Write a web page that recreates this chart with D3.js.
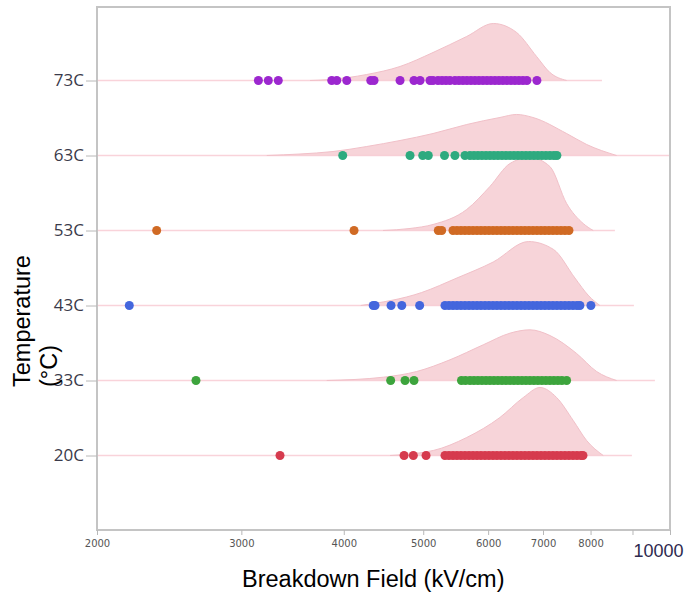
<!DOCTYPE html>
<html>
<head>
<meta charset="utf-8">
<script src="https://cdnjs.cloudflare.com/ajax/libs/d3/7.8.5/d3.min.js"></script>
<style>
  body { margin: 0; background: #fff; }
  svg { display: block; }
  .title { font-family: Arial, "Liberation Sans", sans-serif; font-size: 23.5px; fill: #000; }
</style>
</head>
<body>
<svg class="chart" width="686" height="593"></svg>
<script>
// temperature rows, bottom to top
var rows = ["20C", "33C", "43C", "53C", "63C", "73C"];

// breakdown field of each sample (kV/cm)
var field20 = [3344, 4738, 4863, 5040, 5315, 5375, 5436, 5497, 5559, 5622, 5686, 5750, 5815, 5880, 5947,
  6014, 6082, 6150, 6220, 6290, 6361, 6433, 6506, 6580, 6654, 6729, 6805, 6882, 6960, 7038, 7118, 7198,
  7279, 7362, 7445, 7529, 7614, 7700, 7787, 7831];
var field33 = [2641, 4563, 4751, 4872, 5567, 5630, 5702, 5766, 5831, 5897, 5964, 6031, 6099, 6168, 6238,
  6308, 6379, 6451, 6524, 6598, 6672, 6747, 6823, 6900, 6978, 7057, 7137, 7217, 7299, 7381, 7480];
var field43 = [2190, 4345, 4367, 4568, 4708, 4950, 5315, 5375, 5436, 5497, 5559, 5622, 5686, 5750, 5815,
  5880, 5947, 6014, 6082, 6150, 6220, 6290, 6361, 6433, 6506, 6580, 6654, 6729, 6805, 6882, 6960, 7038,
  7118, 7198, 7279, 7362, 7445, 7529, 7614, 7700, 7765, 8008];
var field53 = [2365, 4117, 5216, 5266, 5436, 5497, 5559, 5622, 5686, 5750, 5815, 5880, 5947, 6014, 6082,
  6150, 6220, 6290, 6361, 6433, 6506, 6580, 6654, 6729, 6805, 6882, 6960, 7038, 7118, 7198, 7279, 7362,
  7445, 7529];
var field63 = [3988, 4818, 4993, 5072, 5308, 5466, 5622, 5702, 5766, 5831, 5897, 5964, 6031, 6099, 6168,
  6238, 6308, 6379, 6451, 6524, 6598, 6672, 6747, 6823, 6900, 6978, 7057, 7137, 7217, 7278];
var field73 = [3147, 3236, 3328, 3867, 3922, 4034, 4315, 4355, 4685, 4872, 4956, 5096, 5139, 5212, 5271,
  5330, 5390, 5466, 5528, 5590, 5653, 5717, 5782, 5847, 5913, 5980, 6047, 6116, 6185, 6254, 6325, 6397,
  6469, 6542, 6616, 6690, 6881];

// density outlines: field (kV/cm) and height as a share of the row spacing
var dens20X = [4555, 5144, 5649, 6202, 6623, 6940, 7273, 7620, 7912, 8290];
var dens20H = [0, 0.067, 0.24, 0.507, 0.773, 0.907, 0.773, 0.467, 0.2, 0];
var dens33X = [3813, 4470, 4909, 5390, 5918, 6379, 6747, 7137, 7693, 8137, 8607];
var dens33H = [0, 0.044, 0.12, 0.276, 0.476, 0.631, 0.676, 0.6, 0.36, 0.12, 0];
var dens43X = [4195, 4978, 5497, 6086, 6721, 7210, 7656, 7960, 8213];
var dens43H = [0, 0.173, 0.367, 0.58, 0.853, 0.747, 0.367, 0.128, 0];
var dens53X = [4466, 4818, 5139, 5649, 6030, 6379, 6747, 7137, 7480, 7837, 8060];
var dens53H = [0, 0.027, 0.08, 0.28, 0.587, 0.893, 0.973, 0.853, 0.36, 0.093, 0];
var dens63X = [3222, 3537, 3881, 4266, 4685, 5139, 5649, 6202, 6500, 6804, 7480, 7912, 8607];
var dens63H = [0, 0.02, 0.053, 0.12, 0.2, 0.293, 0.413, 0.507, 0.547, 0.507, 0.293, 0.147, 0];
var dens73X = [3638, 3848, 4266, 4685, 5139, 5649, 6088, 6500, 6875, 7137, 7480];
var dens73H = [0, 0.013, 0.08, 0.187, 0.373, 0.587, 0.76, 0.64, 0.32, 0.107, 0];

// where each row's thin baseline stops (kV/cm)
var lineEnds = [8985, 9585, 9036, 8566, 10000, 8260];

// axis ticks
var xTicks = [2000, 3000, 4000, 5000, 6000, 7000, 8000, 9000, 10000];

var dotColors = ["#d63b4e", "#3da43d", "#4466dd", "#d06a24", "#2eaa7f", "#9c27cf"];

var fields = [field20, field33, field43, field53, field63, field73];
var densX = [dens20X, dens33X, dens43X, dens53X, dens63X, dens73X];
var densH = [dens20H, dens33H, dens43H, dens53H, dens63H, dens73H];

var series = rows.map(function (r, i) {
    return {
        row: r,
        color: dotColors[i],
        end: lineEnds[i],
        points: fields[i],
        density: densX[i].map(function (v, j) { return { v: v, h: densH[i][j] }; })
    };
});

var plotLeft = 97, plotRight = 670, plotTop = 7, plotBottom = 530;

var x = d3.scaleLog()
    .domain([2000, 10000])
    .range([plotLeft, plotRight]);

var y = d3.scalePoint()
    .domain(rows)
    .range([455.5, 80.5]);

var step = 75;
var h = d3.scaleLinear().domain([0, 1]).range([0, step]);

var svg = d3.select(".chart");

// row baselines
svg.append("g").selectAll("line")
    .data(series)
    .enter().append("line")
    .attr("x1", plotLeft)
    .attr("x2", function (d) { return x(d.end); })
    .attr("y1", function (d) { return y(d.row); })
    .attr("y2", function (d) { return y(d.row); })
    .attr("stroke", "#f9d3da")
    .attr("stroke-width", 1.5);

// densities
var area = function (row) {
    return d3.area()
        .curve(d3.curveMonotoneX)
        .x(function (d) { return x(d.v); })
        .y0(y(row))
        .y1(function (d) { return y(row) - h(d.h); });
};
var topLine = function (row) {
    return d3.line()
        .curve(d3.curveMonotoneX)
        .x(function (d) { return x(d.v); })
        .y(function (d) { return y(row) - h(d.h); });
};

var dens = svg.append("g").selectAll("g")
    .data(series)
    .enter().append("g");

dens.append("path")
    .attr("d", function (d) { return area(d.row)(d.density); })
    .attr("fill", "#f5c9d0")
    .attr("fill-opacity", 0.8);

dens.append("path")
    .attr("d", function (d) { return topLine(d.row)(d.density); })
    .attr("fill", "none")
    .attr("stroke", "#f1c0c8")
    .attr("stroke-width", 1);

// dots
var dotRows = svg.append("g").selectAll("g")
    .data(series)
    .enter().append("g")
    .attr("fill", function (d) { return d.color; });

dotRows.selectAll("circle")
    .data(function (d) { return d.points.map(function (v) { return { v: v, row: d.row }; }); })
    .enter().append("circle")
    .attr("cx", function (d) { return x(d.v); })
    .attr("cy", function (d) { return y(d.row); })
    .attr("r", 4.5);

// frame
svg.append("rect")
    .attr("x", plotLeft)
    .attr("y", plotTop)
    .attr("width", plotRight - plotLeft)
    .attr("height", plotBottom - plotTop)
    .attr("fill", "none")
    .attr("stroke", "#c4c4c4")
    .attr("stroke-width", 2);

// y axis
var yAxisGroup = svg.append("g")
    .attr("transform", "translate(" + plotLeft + ",0)")
    .call(d3.axisLeft(y).tickSize(11).tickPadding(2));
yAxisGroup.select(".domain").remove();
yAxisGroup.selectAll("line").attr("stroke", "#b8b8b8");
yAxisGroup.selectAll("text")
    .attr("font-family", "'Open Sans', sans-serif")
    .attr("font-size", 17)
    .attr("fill", "#3a3a4a");

// x axis
var xAxisGroup = svg.append("g")
    .attr("transform", "translate(0," + plotBottom + ")")
    .call(d3.axisBottom(x)
        .tickValues(xTicks)
        .tickSize(5)
        .tickFormat(function (d) { return d === 9000 ? "" : d; }));
xAxisGroup.select(".domain").remove();
xAxisGroup.selectAll("line").attr("stroke", "#b8b8b8");
xAxisGroup.selectAll("text")
    .attr("y", 17)
    .attr("dy", 0)
    .attr("font-family", "'DejaVu Sans', sans-serif")
    .attr("font-size", 10)
    .attr("fill", "#555");
xAxisGroup.selectAll(".tick")
    .filter(function (d) { return d === 10000; })
    .select("text")
    .attr("x", -37)
    .attr("y", 27)
    .attr("text-anchor", "start")
    .attr("font-family", "Arial, 'Liberation Sans', sans-serif")
    .attr("font-size", 18)
    .attr("fill", "#2e2a4f");

// axis titles
svg.append("text")
    .attr("class", "title")
    .attr("x", 242)
    .attr("y", 587)
    .text("Breakdown Field (kV/cm)");

svg.append("text")
    .attr("class", "title")
    .attr("transform", "translate(30,387) rotate(-90)")
    .text("Temperature");

svg.append("text")
    .attr("class", "title")
    .attr("transform", "translate(57,387) rotate(-90)")
    .text("(°C)");
</script>
</body>
</html>
